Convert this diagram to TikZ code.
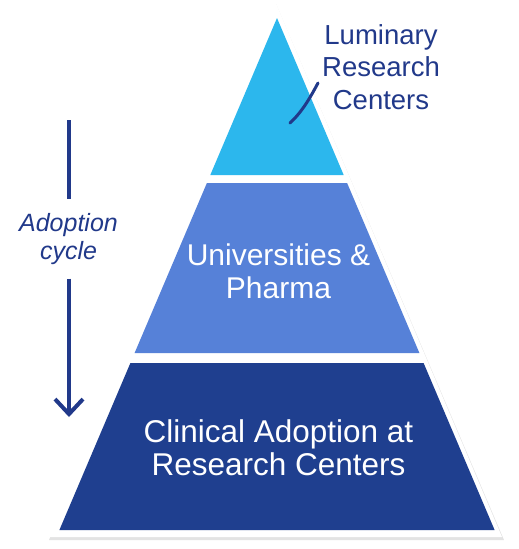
\documentclass[tikz,border=0pt]{standalone}
\usepackage{fontspec}
\setmainfont{Liberation Sans}
\usetikzlibrary{arrows.meta}
\definecolor{topblue}{RGB}{44,183,237}
\definecolor{midblue}{RGB}{86,129,216}
\definecolor{baseblue}{RGB}{31,63,143}
\definecolor{inkblue}{RGB}{33,57,138}
\tikzstyle{bandlabel} = [text=white, align=center, font=\fontsize{30}{33}\selectfont]
\tikzstyle{sidelabel} = [text=inkblue, align=center, font=\fontsize{27.5}{32.5}\selectfont]
\tikzstyle{cyclelabel} = [text=inkblue, align=center, inner xsep=0pt, font=\itshape\fontsize{25}{27.5}\selectfont]
\tikzstyle{cycleline} = [inkblue, line width=4pt]
\tikzstyle{arrow} = [cycleline, -{Straight Barb[length=15pt, width=28pt, line width=4pt]}]

\begin{document}
\begin{tikzpicture}[x=1pt, y=-1pt]
\useasboundingbox (0,0) rectangle (519,549);

% white rim with a faint shadow
\fill[gray!22] (276,4) -- (504,540) -- (49,540) -- cycle;
\fill[white] (275,1) -- (502,537) -- (48,537) -- cycle;

% the three bands
\fill[topblue] (277,18) -- (343.7,175) -- (210.3,175) -- cycle;
\fill[midblue] (206.9,183) -- (347.1,183) -- (419.4,353) -- (134.6,353) -- cycle;
\fill[baseblue] (130.4,363) -- (423.6,363) -- (494.6,530) -- (59.4,530) -- cycle;

\node (lum) [sidelabel] at (381,67) {Luminary\\Research\\Centers};
\node (uni) [bandlabel] at (278.5,271) {Universities \&\\Pharma};
\node (clin) [bandlabel, font=\fontsize{31.5}{33}\selectfont] at (278.5,448) {Clinical Adoption at\\Research Centers};

\coordinate (leadin) at (290,123);
\coordinate (leadout) at (318,83);
\draw [inkblue, line width=3pt, line cap=round] (leadin) .. controls (302,112) and (310,98) .. (leadout);

% adoption cycle arrow
\node (cycle) [cyclelabel, minimum height=79pt] at (68.5,239) {Adoption\\cycle};
\coordinate (cyctop) at (69,120);
\coordinate (cycbot) at (69,417);
\draw [cycleline] (cyctop) -- (cyctop |- cycle.north);
\draw [arrow] (cycbot |- cycle.south) -- (cycbot);

\end{tikzpicture}
\end{document}
